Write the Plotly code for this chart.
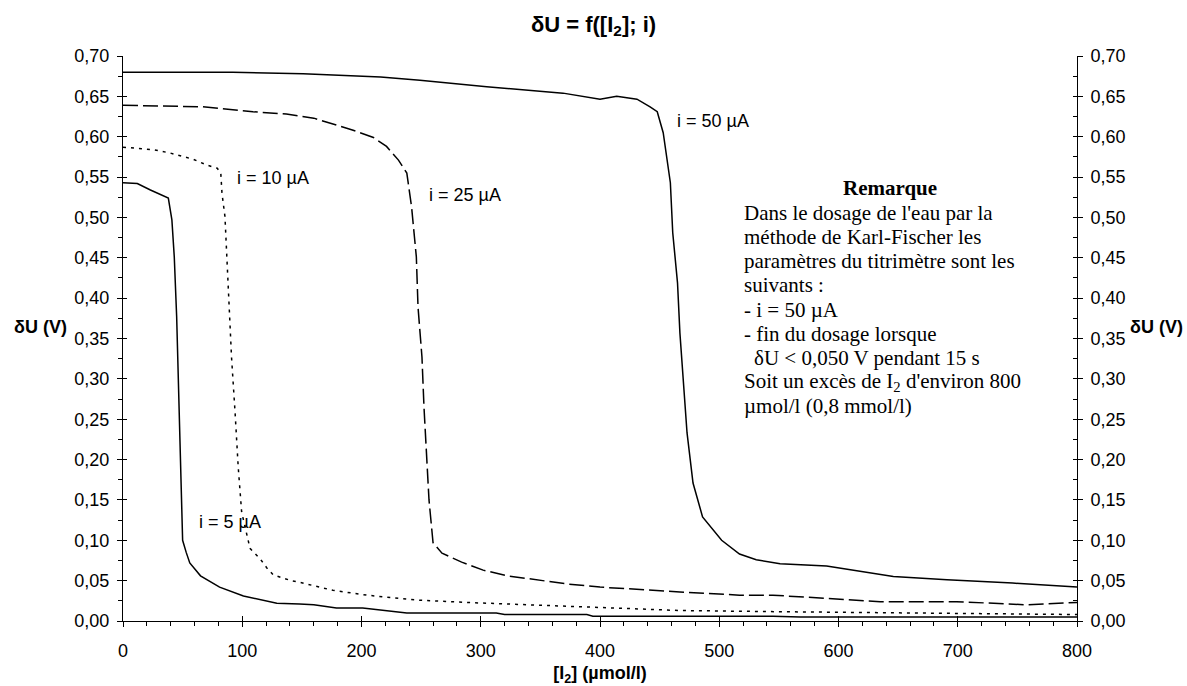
import plotly.graph_objects as go

# ---- data ----
x5 = [0, 12, 23, 38, 41, 43, 45, 47, 48.5, 50, 53, 56, 65, 81, 101, 129, 148, 160, 179, 201, 238, 313, 320, 389, 394, 545, 568, 800]
y5 = [0.543, 0.542, 0.534, 0.524, 0.497, 0.451, 0.377, 0.266, 0.162, 0.100, 0.085, 0.072, 0.056, 0.042, 0.031, 0.022, 0.021, 0.020, 0.016, 0.016, 0.010, 0.010, 0.008, 0.008, 0.006, 0.006, 0.005, 0.005]

x10 = [0, 25, 39, 59, 70, 79, 82, 83, 85.5, 87, 89, 91, 94, 96.6, 99.5, 103.7, 106.5, 115, 120.5, 126, 141, 148, 176, 204.5, 246, 288, 344, 400, 467, 551, 663, 800]
y10 = [0.587, 0.584, 0.580, 0.572, 0.565, 0.561, 0.555, 0.530, 0.501, 0.451, 0.389, 0.327, 0.258, 0.191, 0.135, 0.110, 0.090, 0.077, 0.066, 0.057, 0.050, 0.048, 0.038, 0.032, 0.026, 0.023, 0.020, 0.017, 0.013, 0.0115, 0.010, 0.008]

x25 = [0, 67, 109, 137, 160, 171, 193, 210, 221, 231, 238, 242, 246, 247.4, 250.7, 252.4, 255, 256.6, 260, 267.5, 284, 302, 322, 344, 372, 400, 411, 439, 467, 517, 545, 590, 635, 699, 758, 800]
y25 = [0.639, 0.637, 0.631, 0.628, 0.623, 0.618, 0.608, 0.599, 0.588, 0.571, 0.555, 0.513, 0.451, 0.389, 0.327, 0.265, 0.203, 0.150, 0.097, 0.084, 0.073, 0.063, 0.056, 0.052, 0.046, 0.042, 0.041, 0.038, 0.036, 0.032, 0.032, 0.028, 0.024, 0.024, 0.020, 0.023]

x50 = [0, 92, 151, 193, 216, 249, 305, 369, 400, 414, 431, 442, 448, 453, 459, 461, 465, 467, 470, 473, 478, 486, 502, 517, 531, 551, 590, 607, 646, 691, 746, 800]
y50 = [0.680, 0.680, 0.678, 0.676, 0.674, 0.670, 0.662, 0.654, 0.6465, 0.650, 0.6465, 0.637, 0.631, 0.605, 0.543, 0.481, 0.419, 0.357, 0.295, 0.233, 0.171, 0.129, 0.100, 0.083, 0.076, 0.071, 0.068, 0.064, 0.055, 0.051, 0.047, 0.042]

curve_labels = ["i = 5 µA", "i = 10 µA", "i = 25 µA", "i = 50 µA"]
label_pos = [(62, 0.123), (94, 0.549), (254.6, 0.528), (463, 0.619)]

remark_title = "Remarque"
remark_lines = [
    "Dans le dosage de l'eau par la",
    "méthode de Karl-Fischer les",
    "paramètres du titrimètre sont les",
    "suivants :",
    "- i = 50 µA",
    "- fin du dosage lorsque",
    "  δU < 0,050 V pendant 15 s",
    "Soit un excès de I<sub>2</sub> d'environ 800",
    "µmol/l (0,8 mmol/l)",
]

X_RANGE = [0, 800]
Y_RANGE = [0, 0.70]

SANS = "Liberation Sans, Arial, sans-serif"
SERIF = "Liberation Serif, Times New Roman, serif"

fig = go.Figure()
line_w = 1.5
fig.add_trace(go.Scatter(x=x5, y=y5, mode="lines", line=dict(color="black", width=line_w)))
fig.add_trace(go.Scatter(x=x10, y=y10, mode="lines", line=dict(color="black", width=line_w, dash="3px,5px")))
fig.add_trace(go.Scatter(x=x25, y=y25, mode="lines", line=dict(color="black", width=line_w, dash="15px,5px")))
fig.add_trace(go.Scatter(x=x50, y=y50, mode="lines", line=dict(color="black", width=line_w)))

# invisible traces to activate the helper axes (crossing tick marks)
fig.add_trace(go.Scatter(x=X_RANGE, y=Y_RANGE, mode="lines", line=dict(width=0), xaxis="x2", yaxis="y2", hoverinfo="skip"))
fig.add_trace(go.Scatter(x=X_RANGE, y=Y_RANGE, mode="lines", line=dict(width=0), xaxis="x", yaxis="y3", hoverinfo="skip"))
fig.add_trace(go.Scatter(x=X_RANGE, y=Y_RANGE, mode="lines", line=dict(width=0), xaxis="x", yaxis="y4", hoverinfo="skip"))

tickfont = dict(family=SANS, size=18, color="black")

annotations = []
for txt, (ax, ay) in zip(curve_labels, label_pos):
    annotations.append(dict(x=ax, y=ay, xref="x", yref="y", text=txt, showarrow=False,
                            xanchor="left", yanchor="middle",
                            font=dict(family=SANS, size=18, color="black")))

# remark block
px_per_x = 954 / 800.0
px_per_y = 565 / 0.70
def to_x(px):
    return (px - 123) / px_per_x
def to_y(py):
    return (621 - py) / px_per_y

annotations.append(dict(x=to_x(890), y=to_y(188), xref="x", yref="y", text="<b>" + remark_title + "</b>",
                        showarrow=False, xanchor="center", yanchor="middle",
                        font=dict(family=SERIF, size=21, color="black")))
line_y0 = 212.7
for k, ln in enumerate(remark_lines):
    xpx = 741.5
    t = ln
    if ln.startswith("  "):
        xpx = 751.5
        t = ln.strip()
    annotations.append(dict(x=to_x(xpx), y=to_y(line_y0 + 24.2 * k), xref="x", yref="y", text=t,
                            showarrow=False, xanchor="left", yanchor="middle",
                            font=dict(family=SERIF, size=21, color="black")))

# axis titles (horizontal)
annotations.append(dict(x=40, y=327, xref="paper", yref="paper", text="<b>δU (V)</b>", showarrow=False,
                        font=dict(family=SANS, size=18, color="black")))
annotations.append(dict(x=1156, y=327, xref="paper", yref="paper", text="<b>δU (V)</b>", showarrow=False,
                        font=dict(family=SANS, size=18, color="black")))

W, H = 1187, 686
L, R, T, B = 123, 110, 56, 65
for a in annotations:
    if a["xref"] == "paper":
        a["x"] = (a["x"] - L) / (W - L - R)
        a["y"] = (H - B - a["y"]) / (H - T - B)
        a["xanchor"] = "center"
        a["yanchor"] = "middle"

fig.update_layout(
    width=W, height=H,
    margin=dict(l=L, r=R, t=T, b=B, autoexpand=False),
    paper_bgcolor="white", plot_bgcolor="white",
    showlegend=False,
    separators=", ",
    title=dict(text="<b>δU = f([I<sub>2</sub>]; i)</b>", x=0.5, xanchor="center", y=1 - 24 / H, yanchor="middle",
               font=dict(family=SANS, size=22, color="black")),
    xaxis=dict(range=X_RANGE, dtick=100, tick0=0, showgrid=False, zeroline=False, automargin=False,
               showline=True, linecolor="black", linewidth=1,
               ticks="outside", ticklen=5, tickcolor="black", tickwidth=1,
               ticklabelstandoff=8,
               minor=dict(dtick=20, ticks="outside", ticklen=4, tickcolor="black", tickwidth=1, showgrid=False),
               tickfont=tickfont,
               title=dict(text="<b>[I<sub>2</sub>] (µmol/l)</b>", font=dict(family=SANS, size=18, color="black"), standoff=10)),
    xaxis2=dict(range=X_RANGE, overlaying="x", side="bottom", dtick=100, tick0=0, showgrid=False, zeroline=False,
                automargin=False, showline=False, ticks="inside", ticklen=5, tickcolor="black", tickwidth=1,
                showticklabels=False),
    yaxis=dict(range=Y_RANGE, dtick=0.05, tick0=0, tickformat=".2f", showgrid=False, zeroline=False, automargin=False,
               showline=True, linecolor="black", linewidth=1,
               ticks="outside", ticklen=5, tickcolor="black", tickwidth=1,
               ticklabelstandoff=4,
               minor=dict(dtick=0.025, ticks="outside", ticklen=4, tickcolor="black", tickwidth=1, showgrid=False),
               tickfont=tickfont),
    yaxis2=dict(range=Y_RANGE, overlaying="y", side="right", anchor="x2", dtick=0.05, tick0=0, tickformat=".2f",
                showgrid=False, zeroline=False, automargin=False, showline=True, linecolor="black", linewidth=1,
                ticks="outside", ticklen=5, tickcolor="black", tickwidth=1, ticklabelstandoff=4, tickfont=tickfont),
    yaxis3=dict(range=Y_RANGE, overlaying="y", side="left", dtick=0.05, tick0=0, showgrid=False, zeroline=False,
                automargin=False, showline=False, ticks="inside", ticklen=4, tickcolor="black", tickwidth=1,
                showticklabels=False),
    yaxis4=dict(range=Y_RANGE, overlaying="y", side="right", dtick=0.05, tick0=0, showgrid=False, zeroline=False,
                automargin=False, showline=False, ticks="inside", ticklen=4, tickcolor="black", tickwidth=1,
                showticklabels=False,
                minor=dict(dtick=0.025, ticks="inside", ticklen=4, tickcolor="black", tickwidth=1, showgrid=False)),
    annotations=annotations,
)

fig.write_html("out.html", config={"displayModeBar": False},
               post_script="document.body.style.margin='0px';")
